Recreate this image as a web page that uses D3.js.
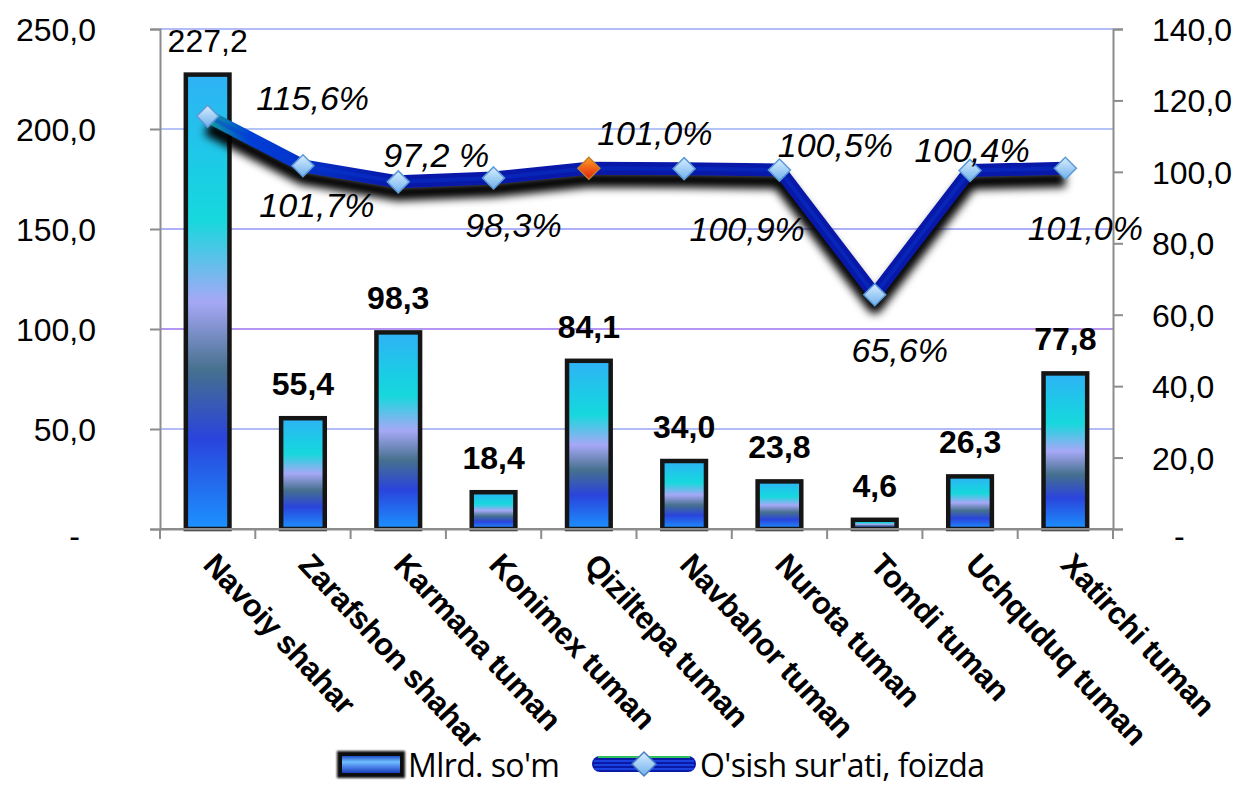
<!DOCTYPE html>
<html>
<head>
<meta charset="utf-8">
<script src="https://cdn.jsdelivr.net/npm/d3@7"></script>
<style>
  html, body { margin: 0; padding: 0; background: #fff; }
  svg { display: block; }
</style>
</head>
<body>
<svg id="chart" width="1246" height="787"></svg>
<script>
// ---- data ----
const categories = ["Navoiy shahar", "Zarafshon shahar", "Karmana tuman", "Konimex tuman",
  "Qiziltepa tuman", "Navbahor tuman", "Nurota tuman", "Tomdi tuman", "Uchquduq tuman", "Xatirchi tuman"];
const volumeValues = [227.2, 55.4, 98.3, 18.4, 84.1, 34.0, 23.8, 4.6, 26.3, 77.8];
const growthValues = [115.6, 101.7, 97.2, 98.3, 101.0, 100.9, 100.5, 65.6, 100.4, 101.0];
const growthLabels = ["115,6%", "101,7%", "97,2 %", "98,3%", "101,0%", "100,9%", "100,5%", "65,6%", "100,4%", "101,0%"];
const leftTicks = [0, 50, 100, 150, 200, 250];
const rightTicks = [0, 20, 40, 60, 80, 100, 120, 140];
const seriesNames = ["Mlrd. so'm", "O'sish sur'ati, foizda"];

// ---- layout (not data) ----
const labelOffsets = [[105, -18], [14, 39], [38, -27], [20, 47], [66, -35], [63, 60], [56, -25], [25, 55], [2, -20], [20, 60]];
const L = 160, R = 1113, T = 29, B = 529;

const svg = d3.select("#chart");
const defs = svg.append("defs");

const x = d3.scaleBand().domain(categories).range([L, R]).paddingInner(0.5).paddingOuter(0.25);
const yL = d3.scaleLinear().domain([0, 250]).range([B, T]);
const yR = d3.scaleLinear().domain([0, 140]).range([B, T]);
const cx = d => x(d) + x.bandwidth() / 2;
const fmt = v => v === 0 ? "-" : v.toFixed(1).replace(".", ",");

// gradients
const bg = defs.append("linearGradient").attr("id", "barGrad").attr("x1", 0).attr("y1", 0).attr("x2", 0).attr("y2", 1);
[[0, "#2fb2f6"], [0.2, "#1ccbe6"], [0.32, "#16d8dc"], [0.5, "#a6a8f6"], [0.65, "#46708e"], [0.8, "#2a44dc"], [1, "#1c92ff"]]
  .forEach(s => bg.append("stop").attr("offset", s[0]).attr("stop-color", s[1]));
const vg = defs.append("linearGradient").attr("id", "vGrid").attr("x1", 0).attr("y1", 0).attr("x2", 0).attr("y2", 1);
[[0, "#7fb6f4"], [0.6, "#b8d0f2"], [1, "#f2d8f0"]].forEach(s => vg.append("stop").attr("offset", s[0]).attr("stop-color", s[1]));
const dg = defs.append("linearGradient").attr("id", "diaGrad").attr("x1", 0).attr("y1", 0).attr("x2", 0).attr("y2", 1);
[[0, "#d8eeff"], [1, "#6fb0ec"]].forEach(s => dg.append("stop").attr("offset", s[0]).attr("stop-color", s[1]));
const og = defs.append("linearGradient").attr("id", "orGrad").attr("x1", 0).attr("y1", 0).attr("x2", 0).attr("y2", 1);
[[0, "#ffa020"], [1, "#e02010"]].forEach(s => og.append("stop").attr("offset", s[0]).attr("stop-color", s[1]));
const lg = defs.append("linearGradient").attr("id", "lineGrad").attr("gradientUnits", "userSpaceOnUse")
  .attr("x1", cx(categories[0])).attr("y1", 0).attr("x2", cx(categories[2])).attr("y2", 0);
[[0, "#10a0a0"], [0.22, "#0040d8"], [1, "#0818a8"]].forEach(s => lg.append("stop").attr("offset", s[0]).attr("stop-color", s[1]));
const sh = defs.append("filter").attr("id", "shadow").attr("x", "-10%").attr("y", "-50%").attr("width", "120%").attr("height", "200%");
sh.append("feGaussianBlur").attr("stdDeviation", 4.5);
const glow = defs.append("filter").attr("id", "glow").attr("x", "-20%").attr("y", "-20%").attr("width", "140%").attr("height", "140%");
glow.append("feGaussianBlur").attr("stdDeviation", 0.8);

// horizontal gridlines
const hColors = ["#b4b4f8", "#b4bcf8", "#b496f2", "#b0b0f8", "#b4c4f8", "#b4bcf8"];
svg.append("g").selectAll("line").data(leftTicks.slice(1)).join("line")
  .attr("x1", L).attr("x2", R).attr("y1", d => yL(d)).attr("y2", d => yL(d))
  .attr("stroke", (d, i) => hColors[i + 1]).attr("stroke-width", 2);
// vertical gridlines
svg.append("g").selectAll("line").data(categories.slice(1)).join("line")
  .attr("x1", d => x(d) - x.step() * x.paddingInner() / 2).attr("x2", d => x(d) - x.step() * x.paddingInner() / 2)
  .attr("y1", T).attr("y2", B).attr("stroke", "url(#vGrid)").attr("stroke-width", 2);

// bars
svg.append("g").selectAll("rect").data(volumeValues).join("rect")
  .attr("x", (d, i) => x(categories[i]) + 2).attr("width", x.bandwidth() - 4)
  .attr("y", d => yL(d)).attr("height", d => B - yL(d))
  .attr("fill", "url(#barGrad)").attr("stroke", "#151515").attr("stroke-width", 4.5);

// axes
const axL = svg.append("g").attr("transform", `translate(${L},0)`)
  .call(d3.axisLeft(yL).tickValues(leftTicks).tickFormat(fmt).tickSize(10).tickPadding(54));
const axR = svg.append("g").attr("transform", `translate(${R},0)`)
  .call(d3.axisRight(yR).tickValues(rightTicks).tickFormat(fmt).tickSize(10).tickPadding(29));
const axB = svg.append("g").attr("transform", `translate(0,${B})`)
  .call(d3.axisBottom(x).tickValues([]).tickSizeOuter(0));
[axL, axR, axB].forEach(a => {
  a.select(".domain").attr("stroke", "#8c8c8c").attr("stroke-width", 2);
  a.selectAll(".tick line").attr("stroke", "#8c8c8c").attr("stroke-width", 2);
  a.selectAll("text").attr("font-family", "Liberation Sans, Arial, sans-serif").attr("font-size", 32).attr("fill", "#000");
});
axL.selectAll(".tick text").attr("dy", d => d === 0 ? "0.55em" : "0.36em").attr("dx", d => d === 0 ? -16 : 0);
axR.selectAll(".tick text").attr("dy", d => d === 0 ? "0.55em" : "0.36em").attr("dx", d => d === 0 ? 22 : 0);
// category boundary ticks on x axis
svg.append("g").selectAll("line").data(d3.range(categories.length + 1)).join("line")
  .attr("x1", i => L + i * x.step()).attr("x2", i => L + i * x.step())
  .attr("y1", B).attr("y2", B + 10).attr("stroke", "#8c8c8c").attr("stroke-width", 2);
svg.append("line").attr("x1", L).attr("x2", R).attr("y1", B).attr("y2", B).attr("stroke", "#8c8c8c").attr("stroke-width", 2);

// category labels
svg.append("g").selectAll("text").data(categories).join("text")
  .attr("transform", d => `translate(${cx(d) - 6},${B + 37}) rotate(47)`)
  .attr("font-family", "Liberation Sans, Arial, sans-serif").attr("font-weight", "bold").attr("font-size", 31)
  .attr("letter-spacing", -0.5)
  .text(d => d);

// bar value labels
svg.append("g").selectAll("text").data(volumeValues).join("text")
  .attr("x", (d, i) => cx(categories[i])).attr("y", d => yL(d) - 34)
  .attr("text-anchor", "middle").attr("dominant-baseline", "central")
  .attr("font-family", "Liberation Sans, Arial, sans-serif").attr("font-size", 32)
  .attr("font-weight", (d, i) => i === 0 ? "normal" : "bold")
  .text(d => d.toFixed(1).replace(".", ","));

// line
const line = d3.line().x((d, i) => cx(categories[i])).y(d => yR(d));
svg.append("path").datum(growthValues).attr("d", line)
  .attr("fill", "none").attr("stroke", "#000").attr("stroke-width", 16).attr("stroke-linejoin", "round")
  .attr("transform", "translate(0,11)").attr("filter", "url(#shadow)");
svg.append("path").datum(growthValues).attr("d", line)
  .attr("fill", "none").attr("stroke", "url(#lineGrad)").attr("stroke-width", 13).attr("stroke-linejoin", "round");
svg.append("path").datum(growthValues).attr("d", line)
  .attr("fill", "none").attr("stroke", "#0a3ad4").attr("stroke-width", 4).attr("stroke-linejoin", "round").attr("opacity", 0.4);

// markers
const diamond = s => `M0,${-s}L${s},0L0,${s}L${-s},0Z`;
svg.append("g").selectAll("path").data(growthValues).join("path")
  .attr("transform", (d, i) => `translate(${cx(categories[i])},${yR(d)})`)
  .attr("d", diamond(11))
  .attr("fill", (d, i) => i === 4 ? "url(#orGrad)" : "url(#diaGrad)")
  .attr("stroke", (d, i) => i === 4 ? "#c08030" : "#5d9ad6").attr("stroke-width", 1.5);

// growth labels
svg.append("g").selectAll("text").data(growthValues).join("text")
  .attr("x", (d, i) => cx(categories[i]) + labelOffsets[i][0])
  .attr("y", (d, i) => yR(d) + labelOffsets[i][1])
  .attr("text-anchor", "middle").attr("dominant-baseline", "central")
  .attr("font-family", "Liberation Sans, Arial, sans-serif").attr("font-style", "italic").attr("font-size", 34)
  .text((d, i) => growthLabels[i]);

// legend
const lgG = svg.append("g");
lgG.append("rect").attr("x", 337).attr("y", 751).attr("width", 68).attr("height", 27)
  .attr("fill", "#111").attr("filter", "url(#glow)");
const lgb = defs.append("linearGradient").attr("id", "legBar").attr("x1", 0).attr("y1", 0).attr("x2", 0).attr("y2", 1);
[[0, "#2050c8"], [0.35, "#70c0ff"], [0.65, "#4a80e8"], [1, "#1a40b8"]].forEach(s => lgb.append("stop").attr("offset", s[0]).attr("stop-color", s[1]));
lgG.append("rect").attr("x", 342).attr("y", 756).attr("width", 58).attr("height", 17).attr("fill", "url(#legBar)");
lgG.append("text").attr("x", 408).attr("y", 777)
  .attr("font-family", "Open Sans, Liberation Sans, sans-serif").attr("font-size", 32).attr("letter-spacing", -0.6)
  .text(seriesNames[0]);
lgG.append("rect").attr("x", 592).attr("y", 756).attr("width", 104).attr("height", 16).attr("rx", 8).attr("fill", "#0a1aa8");
lgG.append("line").attr("x1", 598).attr("x2", 690).attr("y1", 757).attr("y2", 757).attr("stroke", "#30c060").attr("stroke-width", 2);
[761, 765, 769].forEach(yy => lgG.append("line").attr("x1", 594).attr("x2", 694).attr("y1", yy).attr("y2", yy).attr("stroke", "#2050f0").attr("stroke-width", 1.5));
lgG.append("path").attr("transform", "translate(644,764)").attr("d", diamond(12))
  .attr("fill", "url(#diaGrad)").attr("stroke", "#4a7fc0").attr("stroke-width", 1.5);
lgG.append("text").attr("x", 700).attr("y", 777)
  .attr("font-family", "Open Sans, Liberation Sans, sans-serif").attr("font-size", 32).attr("letter-spacing", -0.6)
  .text(seriesNames[1]);
</script>
</body>
</html>
